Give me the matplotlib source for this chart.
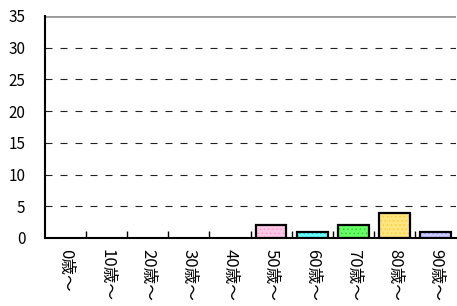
import matplotlib
matplotlib.use("Agg")
import matplotlib.pyplot as plt
from matplotlib.ticker import MultipleLocator, FixedLocator

plt.rcParams['font.family'] = ['Noto Sans CJK JP', 'DejaVu Sans']
plt.rcParams['hatch.linewidth'] = 0.6

labels = ["0歳～", "10歳～", "20歳～", "30歳～", "40歳～",
          "50歳～", "60歳～", "70歳～", "80歳～", "90歳～"]
values = [0, 0, 0, 0, 0, 2, 1, 2, 4, 1]
colors = ["#ffffff", "#ffffff", "#ffffff", "#ffffff", "#ffffff",
          "#ffc8e6", "#66ffff", "#66ff66", "#ffe680", "#c8c8ff"]
hatchcol = ["#ffffff", "#ffffff", "#ffffff", "#ffffff", "#ffffff",
            "#ff99cc", "#33cccc", "#33cc33", "#ffcc33", "#9999ee"]

fig = plt.figure(figsize=(4.57, 3.06), dpi=100)
ax = fig.add_axes([45/457, 68/306, 411/457, 222/306])

x = list(range(len(labels)))
for i in x:
    if values[i] > 0:
        ax.bar(i, values[i], width=0.75, color=colors[i], edgecolor=hatchcol[i],
               hatch="....", linewidth=0, zorder=3)
        ax.bar(i, values[i], width=0.75, fill=False, edgecolor="black",
               linewidth=1.6, zorder=4)

ax.set_xlim(-0.5, len(labels) - 0.5)
ax.set_ylim(0, 35)
ax.yaxis.set_major_locator(MultipleLocator(5))
for v in range(5, 35, 5):
    ax.axhline(v, color="#222222", linestyle=(0, (6.3, 7.2)), linewidth=0.8, zorder=1)
ax.axhline(35, color="#999999", linewidth=2, zorder=1)

ax.spines['top'].set_visible(False)
ax.spines['right'].set_visible(False)
ax.spines['left'].set_linewidth(1.5)
ax.spines['bottom'].set_linewidth(1.5)

ax.set_xticks(x)
ax.set_xticklabels(labels, rotation=-90, fontsize=12)
ax.tick_params(axis='x', length=0, pad=8)
ax.xaxis.set_minor_locator(FixedLocator([i + 0.5 for i in x[:-1]]))
ax.tick_params(axis='x', which='minor', direction='in', length=5, width=1)
ax.tick_params(axis='y', length=0, labelsize=11, pad=14)

fig.savefig("out.png", dpi=100)
